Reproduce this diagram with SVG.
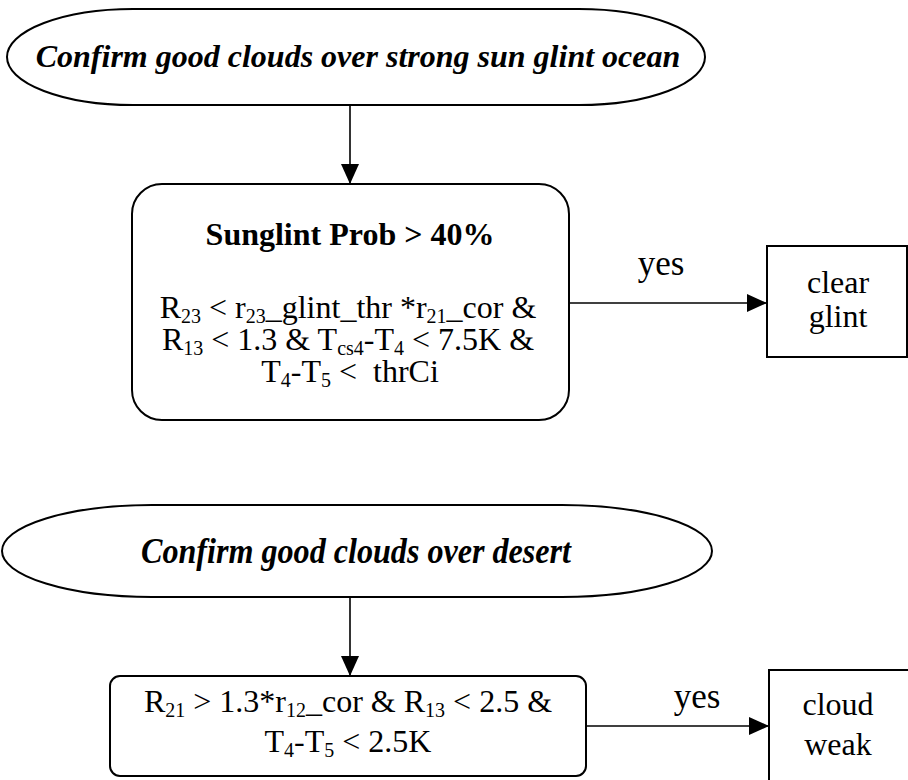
<svg xmlns="http://www.w3.org/2000/svg" width="908" height="780" viewBox="0 0 908 780">
<style>
.shape{fill:#fff;stroke:#000;stroke-width:2}
.conn{fill:none;stroke:#000;stroke-width:1.6}
.h{font-family:"Liberation Serif","Times New Roman",serif;font-size:32px;font-weight:bold;font-style:italic;fill:#000;text-anchor:middle}
.t{font-family:"Liberation Serif","Times New Roman",serif;font-size:32px;fill:#000;text-anchor:middle}
.b{font-weight:bold}
.s{font-size:20px}
</style>
<defs>
<marker id="ah" markerWidth="20" markerHeight="18" refX="20" refY="9" orient="auto" markerUnits="userSpaceOnUse"><path d="M0,0 L20,9 L0,18 z" fill="#000"/></marker>
</defs>
<g id="connectors">
<line class="conn" x1="350" y1="105" x2="350" y2="184" marker-end="url(#ah)"/>
<line class="conn" x1="569" y1="303" x2="767" y2="303" marker-end="url(#ah)"/>
<text class="t" x="661" y="275" style="font-size:35px">yes</text>
<line class="conn" x1="350" y1="597" x2="350" y2="676" marker-end="url(#ah)"/>
<line class="conn" x1="586" y1="726" x2="769" y2="726" marker-end="url(#ah)"/>
<text class="t" x="697" y="708" style="font-size:35px">yes</text>
</g>
<g id="start1">
<rect class="shape" x="7" y="9" width="698" height="96" rx="126" ry="48"/>
<text class="h" x="358" y="67">Confirm good clouds over strong sun glint ocean</text>
</g>
<g id="sunglint">
<rect class="shape" x="132" y="184" width="437" height="236" rx="30" ry="30"/>
<text class="t b" x="350" y="245">Sunglint Prob &gt; 40%</text>
<text class="t" x="348" y="318">R<tspan class="s" dy="5">23</tspan><tspan dy="-5"> &lt; r</tspan><tspan class="s" dy="5">23</tspan><tspan dy="-5">_glint_thr *r</tspan><tspan class="s" dy="5">21</tspan><tspan dy="-5">_cor &amp;</tspan></text>
<text class="t" x="348" y="350">R<tspan class="s" dy="5">13</tspan><tspan dy="-5"> &lt; 1.3 &amp; T</tspan><tspan class="s" dy="5">cs4</tspan><tspan dy="-5">-T</tspan><tspan class="s" dy="5">4</tspan><tspan dy="-5"> &lt; 7.5K &amp;</tspan></text>
<text class="t" x="350" y="382">T<tspan class="s" dy="5">4</tspan><tspan dy="-5">-T</tspan><tspan class="s" dy="5">5</tspan><tspan dy="-5" xml:space="preserve"> &lt;  thrCi</tspan></text>
</g>
<g id="clearglint">
<rect class="shape" x="767" y="246" width="140" height="111"/>
<text class="t" x="838" y="293">clear</text>
<text class="t" x="838" y="327">glint</text>
</g>
<g id="start2">
<rect class="shape" x="2" y="505" width="710" height="92" rx="150" ry="46"/>
<text class="h" x="356" y="563" style="font-size:36px" textLength="430" lengthAdjust="spacingAndGlyphs">Confirm good clouds over desert</text>
</g>
<g id="desert">
<rect class="shape" x="110" y="676" width="476" height="100" rx="10" ry="10"/>
<text class="t" x="348" y="712">R<tspan class="s" dy="5">21</tspan><tspan dy="-5"> &gt; 1.3*r</tspan><tspan class="s" dy="5">12</tspan><tspan dy="-5">_cor &amp; R</tspan><tspan class="s" dy="5">13</tspan><tspan dy="-5"> &lt; 2.5 &amp;</tspan></text>
<text class="t" x="348" y="752">T<tspan class="s" dy="5">4</tspan><tspan dy="-5">-T</tspan><tspan class="s" dy="5">5</tspan><tspan dy="-5"> &lt; 2.5K</tspan></text>
</g>
<g id="cloudweak">
<rect class="shape" x="769" y="670" width="140" height="130"/>
<text class="t" x="838" y="715">cloud</text>
<text class="t" x="838" y="755">weak</text>
</g>
</svg>
